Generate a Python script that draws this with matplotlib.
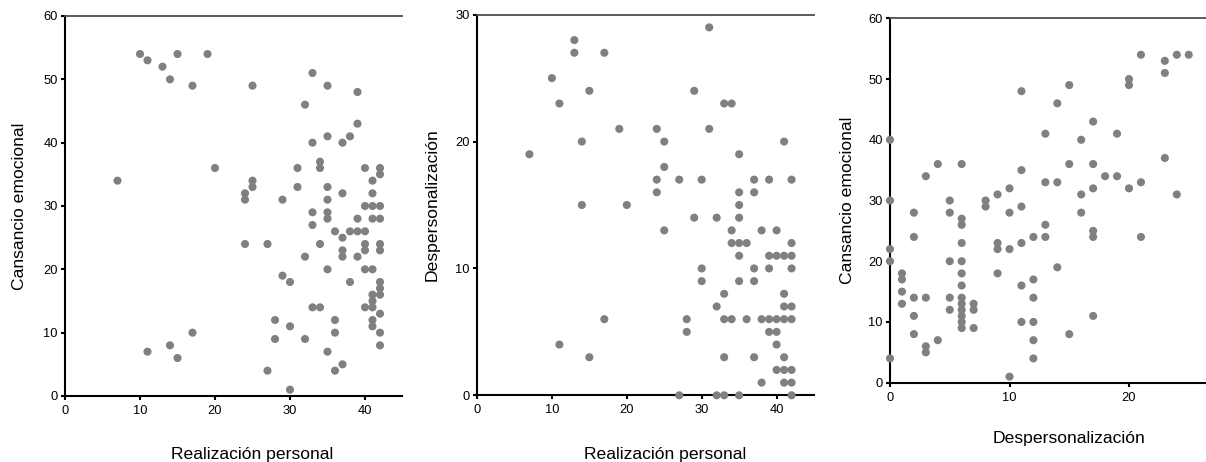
import matplotlib
matplotlib.use("Agg")
import matplotlib.pyplot as plt

plt.rcParams['font.family'] = ['Liberation Sans', 'DejaVu Sans']

# ---------------- data ----------------
# Panel 1: Realización personal (x) vs Cansancio emocional (y)
rp1 = [10, 11, 13, 15, 14, 17, 19, 25, 7, 20,
       24, 24, 25, 25, 24, 27, 29, 29, 30, 30,
       28, 28, 27, 30, 11, 14, 15, 17, 32, 33,
       35, 39, 39, 35, 38, 33, 37, 34, 34, 31,
       31, 35, 35, 33, 35, 35, 33, 36, 37, 34,
       37, 37, 32, 35, 38, 33, 34, 36, 36, 32,
       35, 36, 37, 37, 38, 39, 39, 39, 40, 40,
       40, 40, 40, 40, 40, 41, 41, 41, 41, 41,
       41, 41, 41, 41, 41, 42, 42, 42, 42, 42,
       42, 42, 42, 42, 42, 42, 42]
ce1 = [54, 53, 52, 54, 50, 49, 54, 49, 34, 36,
       32, 31, 34, 33, 24, 24, 31, 19, 18, 11,
       12, 9, 4, 1, 7, 8, 6, 10, 46, 51,
       49, 48, 43, 41, 41, 40, 40, 37, 36, 36,
       33, 33, 31, 29, 29, 28, 27, 26, 25, 24,
       23, 22, 22, 20, 18, 14, 14, 12, 10, 9,
       7, 4, 5, 32, 26, 26, 28, 22, 36, 30,
       26, 24, 23, 20, 14, 34, 32, 30, 28, 20,
       16, 15, 14, 12, 11, 36, 35, 30, 28, 24,
       23, 18, 17, 16, 13, 10, 8]

# Panel 2: Realización personal (x) vs Despersonalización (y)
rp2 = [31, 13, 13, 17, 10, 15, 29, 11, 33, 34,
       19, 24, 31, 14, 25, 41, 7, 35, 25,
       24, 27, 30, 37, 39, 42,
       24, 35, 37,
       14, 20, 35,
       29, 32, 35,
       25, 34, 38, 40,
       34, 35, 36, 42,
       35, 39, 40, 41, 42,
       30, 37, 39, 42,
       30, 35, 37,
       33, 41,
       32, 41, 42,
       17, 28, 33, 34, 36, 38, 39, 40, 41, 42,
       28, 39, 40,
       11, 40,
       15, 33, 37, 41,
       40, 41, 42,
       38, 41, 42,
       27, 32, 33, 35, 42]
dp2 = [29, 28, 27, 27, 25, 24, 24, 23, 23, 23,
       21, 21, 21, 20, 20, 20, 19, 19, 18,
       17, 17, 17, 17, 17, 17,
       16, 16, 16,
       15, 15, 15,
       14, 14, 14,
       13, 13, 13, 13,
       12, 12, 12, 12,
       11, 11, 11, 11, 11,
       10, 10, 10, 10,
       9, 9, 9,
       8, 8,
       7, 7, 7,
       6, 6, 6, 6, 6, 6, 6, 6, 6, 6,
       5, 5, 5,
       4, 4,
       3, 3, 3, 3,
       2, 2, 2,
       1, 1, 1,
       0, 0, 0, 0, 0]

# Panel 3: Despersonalización (x) vs Cansancio emocional (y)
dp3 = [0, 0, 0, 0, 0,
       1, 1, 1, 1,
       2, 2, 2, 2, 2,
       3, 3, 3, 3,
       4, 4,
       5, 5, 5, 5, 5,
       6, 6, 6, 6, 6, 6, 6, 6, 6, 6, 6, 6, 6,
       7, 7, 7,
       8, 8,
       9, 9, 9, 9,
       10, 10, 10, 10,
       11, 11, 11, 11, 11, 11,
       12, 12, 12, 12, 12, 12,
       13, 13, 13, 13,
       14, 14, 14,
       15, 15, 15,
       16, 16, 16,
       17, 17, 17, 17, 17, 17,
       18,
       19, 19,
       20, 20, 20,
       21, 21, 21,
       23, 23, 23,
       24, 24,
       25]
ce3 = [40, 30, 22, 20, 4,
       18, 17, 15, 13,
       28, 24, 14, 11, 8,
       34, 14, 6, 5,
       36, 7,
       30, 28, 20, 14, 12,
       36, 27, 26, 23, 20, 18, 16, 14, 13, 12, 11, 10, 9,
       13, 12, 9,
       30, 29,
       31, 23, 22, 18,
       32, 28, 22, 1,
       48, 35, 29, 23, 16, 10,
       24, 17, 14, 10, 7, 4,
       41, 33, 26, 24,
       46, 33, 19,
       49, 36, 8,
       40, 31, 28,
       43, 36, 32, 25, 24, 11,
       34,
       41, 34,
       50, 49, 32,
       54, 33, 24,
       53, 51, 37,
       54, 31,
       54]

x_ticks_rp = [0, 10, 20, 30, 40]
x_ticks_dp = [0, 10, 20]
y_ticks_ce = [0, 10, 20, 30, 40, 50, 60]
y_ticks_dp = [0, 10, 20, 30]

# ---------------- figure ----------------
W, H = 1206, 462
fig = plt.figure(figsize=(W / 100, H / 100), dpi=100)


def px_axes(left, top, right, bottom):
    return fig.add_axes([left / W, (H - bottom) / H, (right - left) / W, (bottom - top) / H])


DOT = '#808080'


def style(ax, xlabel, ylabel, xlab_x, xlab_base_px, ylab_x, ax_left, ax_top, ax_right, ax_bottom):
    for s in ['left', 'bottom']:
        ax.spines[s].set_color('black')
        ax.spines[s].set_linewidth(1.5)
    ax.spines['top'].set_color('#4d4d4d')
    ax.spines['top'].set_linewidth(1.3)
    ax.spines['right'].set_visible(False)
    ax.tick_params(axis='both', direction='out', length=3, width=1.5,
                   labelsize=9.3, colors='black')
    ax.tick_params(axis='x', pad=3.6)
    ax.tick_params(axis='y', pad=2.2)
    ax.set_xlabel(xlabel, fontsize=12.6)
    ax.set_ylabel(ylabel, fontsize=12.6)
    hpx = ax_bottom - ax_top
    wpx = ax_right - ax_left
    ax.xaxis.label.set_verticalalignment('baseline')
    ax.xaxis.set_label_coords((xlab_x - ax_left) / wpx, -(xlab_base_px - ax_bottom) / hpx)
    ax.yaxis.label.set_verticalalignment('center')
    ax.yaxis.set_label_coords((ylab_x - ax_left) / wpx, 0.5)


# Panel 1
l1, t1, b1 = 65, 16, 396
r1 = l1 + 45 * 7.5
ax1 = px_axes(l1, t1, r1, b1)
ax1.scatter(rp1, ce1, s=34, color=DOT, edgecolors='none', zorder=3, clip_on=False)
ax1.set_xlim(0, 45)
ax1.set_ylim(0, 60)
ax1.set_xticks(x_ticks_rp)
ax1.set_yticks(y_ticks_ce)
style(ax1, 'Realización personal', 'Cansancio emocional', 252, 459, 19, l1, t1, r1, b1)

# Panel 2
l2, t2, b2 = 477, 14.7, 395.3
r2 = l2 + 45 * 7.49
ax2 = px_axes(l2, t2, r2, b2)
ax2.scatter(rp2, dp2, s=34, color=DOT, edgecolors='none', zorder=3, clip_on=False)
ax2.set_xlim(0, 45)
ax2.set_ylim(0, 30)
ax2.set_xticks(x_ticks_rp)
ax2.set_yticks(y_ticks_dp)
style(ax2, 'Realización personal', 'Despersonalización', 665, 459, 432, l2, t2, r2, b2)

# Panel 3
l3, t3, b3 = 890, 18.3, 382.7
r3 = l3 + 30 * 11.95
ax3 = px_axes(l3, t3, r3, b3)
ax3.scatter(dp3, ce3, s=34, color=DOT, edgecolors='none', zorder=3, clip_on=False)
ax3.set_xlim(0, 30)
ax3.set_ylim(0, 60)
ax3.set_xticks(x_ticks_dp)
ax3.set_yticks(y_ticks_ce)
style(ax3, 'Despersonalización', 'Cansancio emocional', 1069, 443, 847, l3, t3, r3, b3)

fig.savefig('out.png', dpi=100)
